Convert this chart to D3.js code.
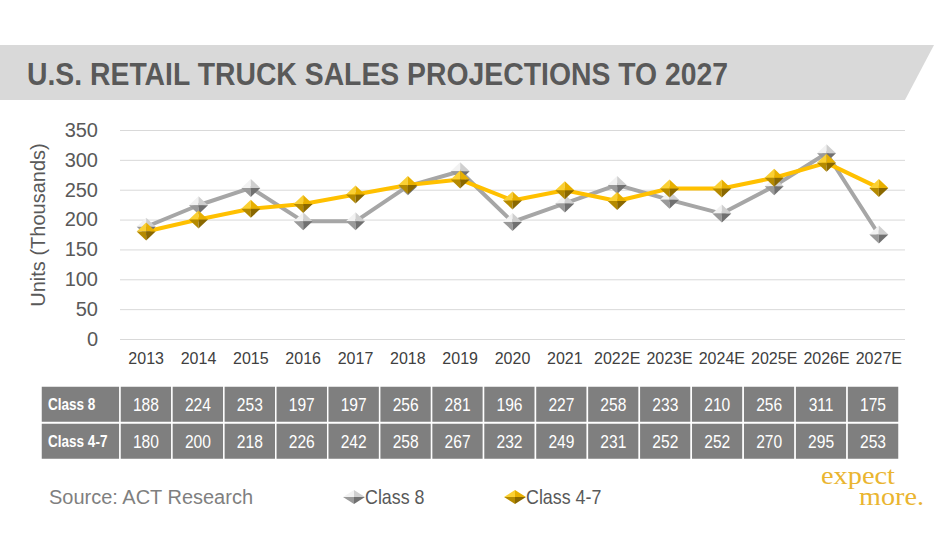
<!DOCTYPE html>
<html>
<head>
<meta charset="utf-8">
<script src="https://cdn.jsdelivr.net/npm/d3@7"></script>
<style>
  html,body{margin:0;padding:0;background:#fff;}
  svg{display:block;}
</style>
</head>
<body>
<svg id="chart" width="950" height="534"></svg>
<script>
// ---- data ----
const categories=['2013','2014','2015','2016','2017','2018','2019','2020','2021','2022E','2023E','2024E','2025E','2026E','2027E'];
const class8=[188,224,253,197,197,256,281,196,227,258,233,210,256,311,175];
const class47=[180,200,218,226,242,258,267,232,249,231,252,252,270,295,253];
const yTicks=[0,50,100,150,200,250,300,350];
const seriesNames=['Class 8','Class 4-7'];

const SANS='"Liberation Sans",Arial,sans-serif';

const svg=d3.select('#chart');

// squeeze a text horizontally (no narrow font installed)
function narrow(sel,k){
  sel.each(function(){
    const w=this.getComputedTextLength();
    d3.select(this).attr('textLength',w*k).attr('lengthAdjust','spacingAndGlyphs');
  });
  return sel;
}

// title banner
svg.append('path')
  .attr('d','M0,45 L934,45 L905,100 L0,100 Z')
  .attr('fill','#d9d9d9');
svg.append('text').attr('x',27).attr('y',85)
  .attr('fill','#595959')
  .style('font-family',SANS).style('font-weight','bold').style('font-size','32px')
  .attr('textLength',701).attr('lengthAdjust','spacingAndGlyphs')
  .text('U.S. RETAIL TRUCK SALES PROJECTIONS TO 2027');

// scales
const x=d3.scaleBand().domain(categories).range([120,905]);
const y=d3.scaleLinear().domain([0,350]).range([339,130]);
const cx=d=>x(d)+x.bandwidth()/2;

// gridlines
svg.append('g').attr('transform','translate(120,0)')
  .call(d3.axisLeft(y).tickValues(yTicks).tickSize(-785).tickFormat(''))
  .call(g=>g.select('.domain').remove())
  .selectAll('.tick line').attr('stroke','#d9d9d9').attr('stroke-width',1);

// y axis labels
svg.append('g').attr('transform','translate(98,0)')
  .call(d3.axisLeft(y).tickValues(yTicks).tickSize(0).tickPadding(0))
  .call(g=>g.select('.domain').remove())
  .selectAll('text').attr('fill','#595959')
  .style('font-family',SANS).style('font-size','20px');

// y axis title
svg.append('text')
  .attr('transform','translate(45,225) rotate(-90)')
  .attr('text-anchor','middle').attr('fill','#595959')
  .style('font-family',SANS).style('font-size','20px')
  .text('Units (Thousands)');

// x axis labels
svg.append('g').attr('transform','translate(0,353)')
  .call(d3.axisBottom(x).tickSize(0).tickPadding(0))
  .call(g=>g.select('.domain').remove())
  .selectAll('text').attr('fill','#404040')
  .style('font-family',SANS).style('font-size','16px');

// marker: faceted diamond
function diamond(g,w,h,cols){
  const pts=[[0,-h],[w,0],[0,h],[-w,0]];
  const faces=[[3,0],[0,1],[3,2],[2,1]];
  faces.forEach((f,i)=>{
    g.append('path')
      .attr('d',`M0,0 L${pts[f[0]][0]},${pts[f[0]][1]} L${pts[f[1]][0]},${pts[f[1]][1]} Z`)
      .attr('fill',cols[i]);
  });
}
const GRAY=['#f2f2f2','#cfcfcf','#9a9a9a','#707070'];
const GOLD=['#fbd033','#e8b000','#b58a00','#8a6800'];

const series=[
  {name:seriesNames[0],values:class8,line:'#a6a6a6',cols:GRAY},
  {name:seriesNames[1],values:class47,line:'#ffc000',cols:GOLD}
];

const line=d3.line().x((d,i)=>cx(categories[i])).y(d=>y(d));
series.forEach(s=>{
  svg.append('path').datum(s.values).attr('d',line)
    .attr('fill','none').attr('stroke',s.line).attr('stroke-width',4)
    .attr('stroke-linejoin','round');
});
series.forEach(s=>{
  s.values.forEach((v,i)=>{
    const g=svg.append('g').attr('transform',`translate(${cx(categories[i])},${y(v)})`);
    diamond(g,9.5,9,s.cols);
  });
});

// data table
const tx=d3.scaleBand().domain(categories).range([120,899]);
const rows=[{label:'Class 8',values:class8},{label:'Class 4-7',values:class47}];
const rowTop=[386,423],rowH=36.5;
const tbl=svg.append('g');
rows.forEach((r,ri)=>{
  const ty=rowTop[ri];
  tbl.append('rect').attr('x',41).attr('y',ty).attr('width',79).attr('height',rowH)
    .attr('fill','#7f7f7f').attr('stroke','#fff').attr('stroke-width',1.5);
  narrow(tbl.append('text').attr('x',48).attr('y',ty+rowH/2).attr('dy','0.35em')
    .attr('fill','#fff').style('font-family',SANS).style('font-weight','bold').style('font-size','16.5px')
    .text(r.label),0.82);
  r.values.forEach((v,i)=>{
    tbl.append('rect').attr('x',tx(categories[i])).attr('y',ty).attr('width',tx.bandwidth()).attr('height',rowH)
      .attr('fill','#7f7f7f').attr('stroke','#fff').attr('stroke-width',1.5);
    narrow(tbl.append('text').attr('x',tx(categories[i])+tx.bandwidth()/2).attr('y',ty+rowH/2).attr('dy','0.35em')
      .attr('text-anchor','middle').attr('fill','#fff')
      .style('font-family',SANS).style('font-size','19px')
      .text(v),0.82);
  });
});

// footer
svg.append('text').attr('x',49).attr('y',504).attr('fill','#7f7f7f')
  .style('font-family',SANS).style('font-size','20px')
  .attr('textLength',204).attr('lengthAdjust','spacingAndGlyphs')
  .text('Source:  ACT Research');

const legendX=[354,515];
series.forEach((s,i)=>{
  const g=svg.append('g').attr('transform',`translate(${legendX[i]},497)`);
  diamond(g,11,7,s.cols);
  narrow(svg.append('text').attr('x',legendX[i]+11).attr('y',504).attr('fill','#595959')
    .style('font-family',SANS).style('font-size','21px')
    .text(s.name),0.85);
});

// logo (one text, two lines)
const logo=svg.append('text').attr('fill','#eab530')
  .style('font-family','"Liberation Serif","Times New Roman",serif').style('font-size','25px');
logo.append('tspan').attr('x',821).attr('y',484).attr('textLength',74).attr('lengthAdjust','spacingAndGlyphs').text('expect');
logo.append('tspan').attr('x',859).attr('y',505).attr('textLength',65).attr('lengthAdjust','spacingAndGlyphs').text('more.');
</script>
</body>
</html>
